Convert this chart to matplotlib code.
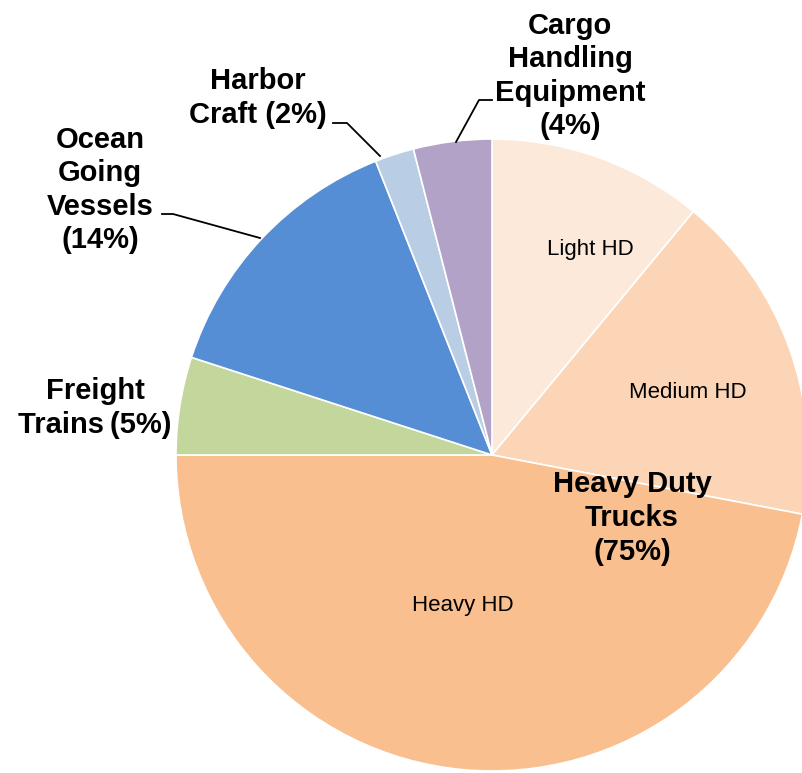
import matplotlib.pyplot as plt

plt.rcParams['font.family'] = ['Liberation Sans', 'DejaVu Sans']

# slices clockwise from 12 o'clock (percent of total)
categories = ['Light HD', 'Medium HD', 'Heavy HD', 'Freight Trains',
              'Ocean Going Vessels', 'Harbor Craft', 'Cargo Handling Equipment']
shares = [11, 17, 47, 5, 14, 2, 4]
colors = ['#FDE9D9', '#FBD5B5', '#F9BF8F', '#C3D69B', '#558ED5', '#B9CDE5', '#B3A2C7']

W, H = 803, 773
fig = plt.figure(figsize=(W / 100, H / 100), dpi=100)
ax = fig.add_axes([0, 0, 1, 1])

ax.pie(shares, colors=colors, startangle=90, counterclock=False,
       center=(492, H - 455), radius=316, frame=True,
       wedgeprops=dict(edgecolor='white', linewidth=1.2))
ax.set_xlim(0, W)
ax.set_ylim(0, H)
ax.set_aspect('equal')
ax.axis('off')


def txt(x, y, s, **kw):
    ax.text(x, H - y, s, ha='center', va='center', **kw)


def line(pts):
    ax.plot([p[0] for p in pts], [H - p[1] for p in pts], color='black', lw=1.3)


bold = dict(fontsize=21, fontweight='bold', linespacing=1.25)
small = dict(fontsize=16)

txt(570, 76, 'Cargo\nHandling\nEquipment\n(4%)', **bold)
txt(258, 98, 'Harbor\nCraft (2%)', **bold)
txt(100, 190, 'Ocean\nGoing\nVessels\n(14%)', **bold)
txt(95, 408, 'Freight\nTrains\u2009(5%)', **bold)
txt(632, 518, 'Heavy Duty\nTrucks\n(75%)', **bold)

txt(590, 250, categories[0], **small)
txt(688, 393, categories[1], **small)
txt(463, 605, categories[2], **small)

line([(492, 100), (479, 100), (456, 142)])
line([(333, 123), (347, 123), (380, 156)])
line([(162, 214), (173, 214), (260, 238)])

fig.savefig('out.png', dpi=100)
